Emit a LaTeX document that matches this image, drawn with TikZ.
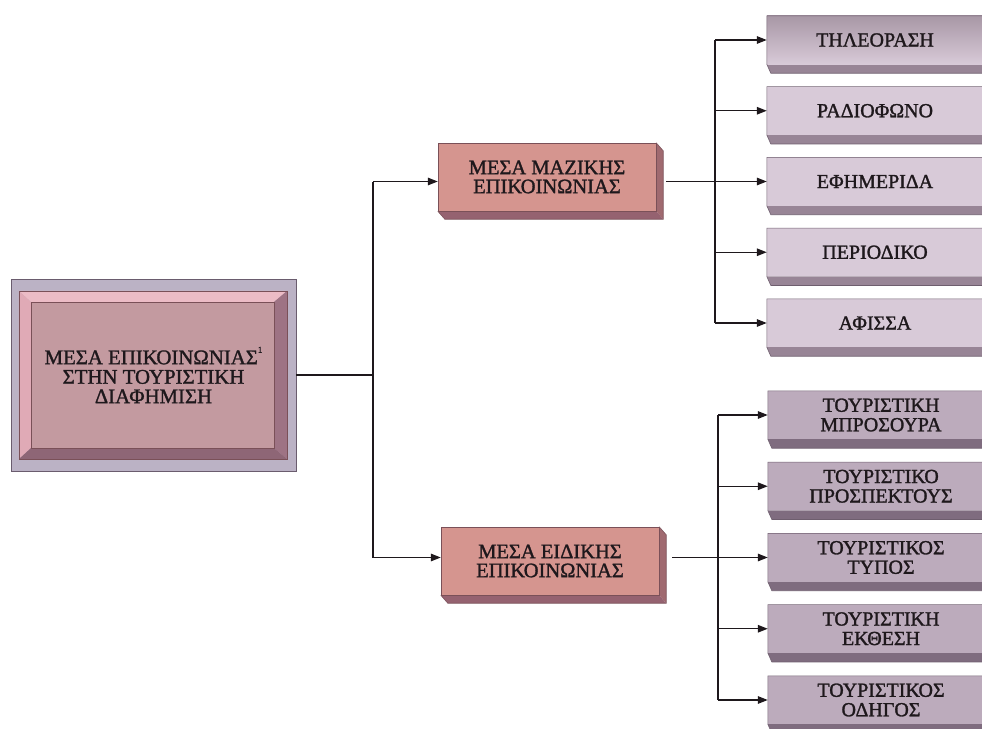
\documentclass[tikz,border=0pt]{standalone}
\usepackage{fontspec}
\setmainfont{Liberation Serif}
\newfontfamily\boxfont{Liberation Serif}[FakeBold=1.4]
\usetikzlibrary{arrows.meta,backgrounds,calc}
\definecolor{ink}{HTML}{1E181C}
\definecolor{frameC}{HTML}{BBB2C5}
\definecolor{frameE}{HTML}{6A5C6E}
\definecolor{bevTop}{HTML}{ECBCC6}
\definecolor{bevLeft}{HTML}{E0AAB6}
\definecolor{bevRight}{HTML}{9E7384}
\definecolor{bevBot}{HTML}{8E6676}
\definecolor{faceC}{HTML}{C39AA0}
\definecolor{midFront}{HTML}{D5958F}
\definecolor{midSide}{HTML}{A06A70}
\definecolor{midBot}{HTML}{956270}
\definecolor{midEdge}{HTML}{7A5058}
\definecolor{topFront}{HTML}{D8CAD8}
\definecolor{topDepth}{HTML}{988596}
\definecolor{botFront}{HTML}{BCABBC}
\definecolor{botDepth}{HTML}{7F6C7F}
\definecolor{rEdge}{HTML}{6E5E6E}
\begin{document}
\begin{tikzpicture}[x=1pt,y=-1pt,
  mainbox/.style={minimum width=285pt,minimum height=192pt,inner sep=0pt,align=center,text=ink,font=\boxfont\fontsize{20.8}{19.5}\selectfont},
  midbox/.style={minimum width=218pt,minimum height=68pt,inner sep=0pt,align=center,text=ink,font=\boxfont\fontsize{20.5}{19}\selectfont},
  topbox/.style={minimum width=216pt,minimum height=48pt,inner sep=0pt,align=center,text=ink,font=\boxfont\fontsize{20}{19.5}\selectfont},
  botbox/.style={topbox,minimum width=226pt},
  link/.style={draw=ink,line width=1.3pt},
  arr/.style={link,-{Triangle[length=10pt,width=7.5pt]}},
  edge/.style={draw=#1,line width=0.6pt}
]
\useasboundingbox (0,0) rectangle (982,728);
\clip (0,0) rectangle (982,728);

% nodes
\node[mainbox] (main) at (153.5,375) {ΜΕΣΑ ΕΠΙΚΟΙΝΩΝΙΑΣ\raisebox{0.55em}{\fontsize{9}{9}\selectfont 1}\\ΣΤΗΝ ΤΟΥΡΙΣΤΙΚΗ\\ΔΙΑΦΗΜΙΣΗ};
\node[midbox] (m1) at (547,177) {ΜΕΣΑ ΜΑΖΙΚΗΣ\\ΕΠΙΚΟΙΝΩΝΙΑΣ};
\node[midbox] (m2) at (550,561) {ΜΕΣΑ ΕΙΔΙΚΗΣ\\ΕΠΙΚΟΙΝΩΝΙΑΣ};

\node[topbox] (r1) at (875,40) {ΤΗΛΕΟΡΑΣΗ};
\node[topbox] (r2) at (875,110.75) {ΡΑΔΙΟΦΩΝΟ};
\node[topbox] (r3) at (875,181.5) {ΕΦΗΜΕΡΙΔΑ};
\node[topbox] (r4) at (875,252.25) {ΠΕΡΙΟΔΙΚΟ};
\node[topbox] (r5) at (875,323) {ΑΦΙΣΣΑ};

\node[botbox] (s1) at (881,415) {ΤΟΥΡΙΣΤΙΚΗ\\ΜΠΡΟΣΟΥΡΑ};
\node[botbox] (s2) at (881,486.25) {ΤΟΥΡΙΣΤΙΚΟ\\ΠΡΟΣΠΕΚΤΟΥΣ};
\node[botbox] (s3) at (881,557.5) {ΤΟΥΡΙΣΤΙΚΟΣ\\ΤΥΠΟΣ};
\node[botbox] (s4) at (881,628.75) {ΤΟΥΡΙΣΤΙΚΗ\\ΕΚΘΕΣΗ};
\node[botbox] (s5) at (881,700) {ΤΟΥΡΙΣΤΙΚΟΣ\\ΟΔΗΓΟΣ};

\coordinate (j) at (373,375);
\coordinate (vt) at (715,0);
\coordinate (vb) at (718,0);

% connectors
\draw[link] (main.east) -- (j);
\draw[link] (j |- r3) -- (j |- s3);
\draw[arr] (j |- r3) -- (m1.west |- r3);
\draw[arr] (j |- s3) -- (m2.west |- s3);

\draw[link] (r1 -| vt) -- (r5 -| vt);
\draw[arr] ($(m1.east |- r3)+(10,0)$) -- (r3);
\foreach \n in {r1,r2,r4,r5} {\draw[arr] (\n -| vt) -- (\n);}

\draw[link] (s1 -| vb) -- (s5 -| vb);
\draw[arr] ($(m2.east |- s3)+(13,0)$) -- (s3);
\foreach \n in {s1,s2,s4,s5} {\draw[arr] (\n -| vb) -- (\n);}

% box bodies
\begin{scope}[on background layer]
  % main box
  \fill[frameC] (main.north west) rectangle (main.south east);
  \draw[edge=frameE] (main.north west) rectangle (main.south east);
  \coordinate (bo1) at ($(main.north west)+(8,12)$);
  \coordinate (bo2) at ($(main.south east)+(-9,-12)$);
  \coordinate (fi1) at ($(main.north west)+(20,23)$);
  \coordinate (fi2) at ($(main.south east)+(-22,-23)$);
  \fill[bevTop] (bo1) -- (bo1 -| bo2) -- (fi1 -| fi2) -- (fi1) -- cycle;
  \fill[bevLeft] (bo1) -- (fi1) -- (fi1 |- fi2) -- (bo1 |- bo2) -- cycle;
  \fill[bevRight] (bo1 -| bo2) -- (bo2) -- (fi2) -- (fi1 -| fi2) -- cycle;
  \fill[bevBot] (bo1 |- bo2) -- (bo2) -- (fi2) -- (fi1 |- fi2) -- cycle;
  \fill[faceC] (fi1) rectangle (fi2);
  \draw[edge=midEdge] (bo1) rectangle (bo2);
  \draw[edge=midEdge] (fi1) rectangle (fi2);
  % middle boxes
  \foreach \n in {m1,m2} {
    \fill[midSide] (\n.north east) -- ($(\n.north east)+(7,8)$) -- ($(\n.south east)+(7,8)$) -- (\n.south east) -- cycle;
    \fill[midBot] (\n.south west) -- (\n.south east) -- ($(\n.south east)+(7,8)$) -- ($(\n.south west)+(7,8)$) -- cycle;
    \fill[midFront] (\n.north west) rectangle (\n.south east);
    \draw[edge=midEdge] (\n.north west) rectangle (\n.south east);
    \draw[edge=midEdge] (\n.north east) -- ($(\n.north east)+(7,8)$) -- ($(\n.south east)+(7,8)$) -- ($(\n.south west)+(7,8)$) -- (\n.south west);
  }
  % right boxes, upper group
  \foreach \n in {r2,r3,r4,r5} {
    \fill[topDepth] (\n.south west) -- ($(\n.south east)+(40,0)$) -- ($(\n.south east)+(40,9)$) -- ($(\n.south west)+(4,9)$) -- cycle;
    \fill[topFront] (\n.north west) rectangle ($(\n.south east)+(40,0)$);
    \draw[edge=rEdge] ($(\n.north east)+(40,0)$) -- (\n.north west) -- (\n.south west) -- ($(\n.south west)+(4,9)$) -- ($(\n.south east)+(40,9)$);
  }
  \fill[topDepth] (r1.south west) -- ($(r1.south east)+(40,0)$) -- ($(r1.south east)+(40,9)$) -- ($(r1.south west)+(4,9)$) -- cycle;
  \shade[top color=topDepth!85,bottom color=topFront] (r1.north west) rectangle ($(r1.south east)+(40,0)$);
  \draw[edge=rEdge] ($(r1.north east)+(40,0)$) -- (r1.north west) -- (r1.south west) -- ($(r1.south west)+(4,9)$) -- ($(r1.south east)+(40,9)$);
  % right boxes, lower group
  \foreach \n in {s1,s2,s3,s4,s5} {
    \fill[botDepth] (\n.south west) -- ($(\n.south east)+(40,0)$) -- ($(\n.south east)+(40,9)$) -- ($(\n.south west)+(4,9)$) -- cycle;
    \fill[botFront] (\n.north west) rectangle ($(\n.south east)+(40,0)$);
    \draw[edge=rEdge] ($(\n.north east)+(40,0)$) -- (\n.north west) -- (\n.south west) -- ($(\n.south west)+(4,9)$) -- ($(\n.south east)+(40,9)$);
  }
\end{scope}
\end{tikzpicture}
\end{document}
